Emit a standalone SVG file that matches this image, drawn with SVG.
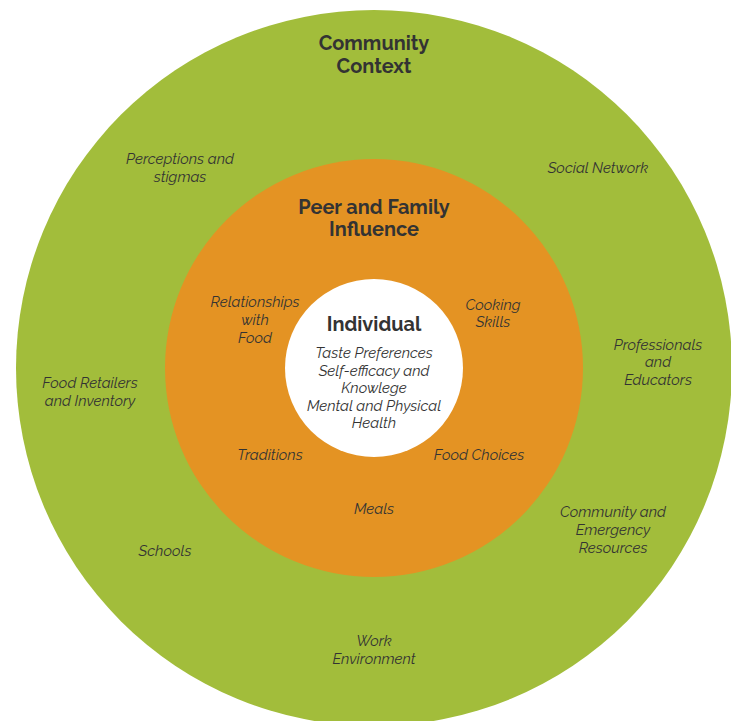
<svg xmlns="http://www.w3.org/2000/svg" width="731" height="721" viewBox="0 0 731 721">
<style>
.t{font-family:Raleway,Lato,"Open Sans",sans-serif;fill:#333333;text-anchor:middle}
.h{font-weight:700;font-size:19.9px}
.l{font-style:italic;font-size:14.9px}
</style>
<rect width="731" height="721" fill="#ffffff"/>
<g id="community">
<circle cx="374" cy="368" r="358" fill="#a2bd3b"/>
<text class="t h" x="374" y="50">Community</text>
<text class="t h" x="374" y="73">Context</text>
</g>
<g id="peer-family">
<circle cx="374" cy="368" r="209" fill="#e49323"/>
<text class="t h" x="374" y="214">Peer and Family</text>
<text class="t h" x="374" y="236">Influence</text>
</g>
<g id="individual">
<circle cx="374" cy="368" r="89" fill="#ffffff"/>
<text class="t h" x="374" y="331">Individual</text>
<text class="t l" x="374" y="358">Taste Preferences</text>
<text class="t l" x="374" y="375.5">Self-efficacy and</text>
<text class="t l" x="374" y="393">Knowlege</text>
<text class="t l" x="374" y="410.5">Mental and Physical</text>
<text class="t l" x="374" y="428">Health</text>
</g>
<g id="labels">
<text class="t l" x="180" y="164">Perceptions and</text>
<text class="t l" x="180" y="182">stigmas</text>
<text class="t l" x="598" y="173">Social Network</text>
<text class="t l" x="255" y="307">Relationships</text>
<text class="t l" x="255" y="325">with</text>
<text class="t l" x="255" y="343">Food</text>
<text class="t l" x="493" y="310">Cooking</text>
<text class="t l" x="493" y="327">Skills</text>
<text class="t l" x="658" y="350">Professionals</text>
<text class="t l" x="658" y="367">and</text>
<text class="t l" x="658" y="385">Educators</text>
<text class="t l" x="90" y="388">Food Retailers</text>
<text class="t l" x="90" y="406">and Inventory</text>
<text class="t l" x="270" y="460">Traditions</text>
<text class="t l" x="479" y="460">Food Choices</text>
<text class="t l" x="374" y="514">Meals</text>
<text class="t l" x="613" y="517">Community and</text>
<text class="t l" x="613" y="535">Emergency</text>
<text class="t l" x="613" y="553">Resources</text>
<text class="t l" x="165" y="556">Schools</text>
<text class="t l" x="374" y="646">Work</text>
<text class="t l" x="374" y="664">Environment</text>
</g>
</svg>
